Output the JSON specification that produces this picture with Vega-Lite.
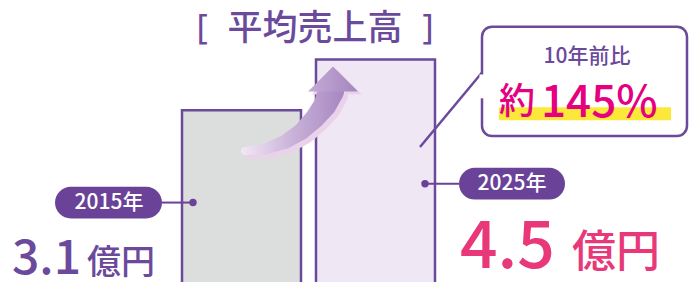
{
  "$schema": "https://vega.github.io/schema/vega-lite/v6.json",
  "width": 689,
  "height": 284,
  "autosize": {"type": "fit", "contains": "padding"},
  "padding": 0,
  "background": "white",
  "config": {"view": {"stroke": null}, "text": {"font": "Noto Sans CJK JP"}},
  "datasets": {
    "bars": [
      {"year": "2015年", "revenue": 3.1, "x0": 182, "x1": 301, "top": 111, "bottom": 292},
      {"year": "2025年", "revenue": 4.5, "x0": 316, "x1": 435, "top": 60, "bottom": 292}
    ],
    "arrow": [
      {"o": 1, "x": 245, "y": 152, "w": 8},
      {"o": 2, "x": 265, "y": 150, "w": 11},
      {"o": 3, "x": 285, "y": 143, "w": 14},
      {"o": 4, "x": 302, "y": 132, "w": 17},
      {"o": 5, "x": 315, "y": 119, "w": 20},
      {"o": 6, "x": 325, "y": 106, "w": 23},
      {"o": 7, "x": 331, "y": 92, "w": 26}
    ],
    "head": [{"x": 333, "y": 79.5}]
  },
  "layer": [
    {
      "data": {"name": "bars"},
      "mark": {"type": "rect", "stroke": "#6b4a9c", "strokeWidth": 2.5, "clip": true},
      "encoding": {
        "x": {"field": "x0", "type": "quantitative", "scale": {"domain": [0, 689], "nice": false, "zero": false}, "axis": null},
        "x2": {"field": "x1"},
        "y": {"field": "top", "type": "quantitative", "scale": {"domain": [0, 284], "reverse": true, "nice": false, "zero": false}, "axis": null},
        "y2": {"field": "bottom"},
        "color": {"field": "year", "type": "nominal", "scale": {"domain": ["2015年", "2025年"], "range": ["#dcdddd", "#f0e7f5"]}, "legend": null}
      }
    },
    {
      "data": {"name": "arrow"},
      "mark": {"type": "trail", "color": "#ead3ea", "xOffset": 4, "yOffset": 4},
      "encoding": {
        "x": {"field": "x", "type": "quantitative"},
        "y": {"field": "y", "type": "quantitative"},
        "size": {"field": "w", "type": "quantitative", "scale": null, "legend": null},
        "order": {"field": "o"}
      }
    },
    {
      "data": {"name": "head"},
      "mark": {"type": "point", "filled": true, "opacity": 1, "color": "#ead3ea", "shape": "M-1,0.5L0,-0.5L1,0.5Z", "size": 2500, "xOffset": 4, "yOffset": 3},
      "encoding": {
        "x": {"field": "x", "type": "quantitative"},
        "y": {"field": "y", "type": "quantitative"}
      }
    },
    {
      "data": {"name": "arrow"},
      "mark": {"type": "trail", "color": {"gradient": "linear", "x1": 0, "y1": 0, "x2": 1, "y2": 0, "stops": [{"offset": 0, "color": "#f1e8f4"}, {"offset": 0.5, "color": "#c9b2d9"}, {"offset": 1, "color": "#a687c0"}]}},
      "encoding": {
        "x": {"field": "x", "type": "quantitative"},
        "y": {"field": "y", "type": "quantitative"},
        "size": {"field": "w", "type": "quantitative", "scale": null, "legend": null},
        "order": {"field": "o"}
      }
    },
    {
      "data": {"name": "head"},
      "mark": {"type": "point", "filled": true, "opacity": 1, "color": {"gradient": "linear", "x1": 0, "y1": 0, "x2": 1, "y2": 0, "stops": [{"offset": 0, "color": "#c4acd6"}, {"offset": 1, "color": "#a485be"}]}, "shape": "M-1,0.5L0,-0.5L1,0.5Z", "size": 2500},
      "encoding": {
        "x": {"field": "x", "type": "quantitative"},
        "y": {"field": "y", "type": "quantitative"}
      }
    },
    {
      "data": {"values": [{"x": 420, "y": 148, "x2": 482, "y2": 73}]},
      "mark": {"type": "rule", "color": "#6b4a9c", "strokeWidth": 2.5},
      "encoding": {
        "x": {"field": "x", "type": "quantitative"},
        "y": {"field": "y", "type": "quantitative"},
        "x2": {"field": "x2"},
        "y2": {"field": "y2"}
      }
    },
    {
      "data": {"values": [{"x0": 482, "x1": 687, "y0": 27, "y1": 137}]},
      "mark": {"type": "rect", "fill": "white", "stroke": "#6b4a9c", "strokeWidth": 2.5, "cornerRadius": 10},
      "encoding": {
        "x": {"field": "x0", "type": "quantitative"},
        "x2": {"field": "x1"},
        "y": {"field": "y0", "type": "quantitative"},
        "y2": {"field": "y1"}
      }
    },
    {
      "data": {"values": [{"x": 482, "y0": 75, "y1": 99}]},
      "mark": {"type": "rule", "color": "white", "strokeWidth": 5},
      "encoding": {
        "x": {"field": "x", "type": "quantitative"},
        "y": {"field": "y0", "type": "quantitative"},
        "y2": {"field": "y1"}
      }
    },
    {
      "data": {"values": [{"x0": 499, "x1": 671, "y0": 108, "y1": 121}]},
      "mark": {"type": "rect", "color": "#fce83a"},
      "encoding": {
        "x": {"field": "x0", "type": "quantitative"},
        "x2": {"field": "x1"},
        "y": {"field": "y0", "type": "quantitative"},
        "y2": {"field": "y1"}
      }
    },
    {
      "data": {"values": [{"x": 162, "x2": 193, "y": 204}, {"x": 425, "x2": 459, "y": 185}]},
      "mark": {"type": "rule", "color": "#6a4399", "strokeWidth": 2},
      "encoding": {
        "x": {"field": "x", "type": "quantitative"},
        "x2": {"field": "x2"},
        "y": {"field": "y", "type": "quantitative"}
      }
    },
    {
      "data": {"values": [{"x": 193, "y": 204}, {"x": 425, "y": 185}]},
      "mark": {"type": "point", "filled": true, "opacity": 1, "color": "#6a4399", "size": 55},
      "encoding": {
        "x": {"field": "x", "type": "quantitative"},
        "y": {"field": "y", "type": "quantitative"}
      }
    },
    {
      "data": {"values": [{"label": "2015年", "x0": 55, "x1": 162, "y0": 188, "y1": 220, "cx": 109, "cy": 204}, {"label": "2025年", "x0": 459, "x1": 565, "y0": 169, "y1": 201, "cx": 512, "cy": 185}]},
      "layer": [
        {
          "mark": {"type": "rect", "color": "#6a4399", "cornerRadius": 16},
          "encoding": {
            "x": {"field": "x0", "type": "quantitative"},
            "x2": {"field": "x1"},
            "y": {"field": "y0", "type": "quantitative"},
            "y2": {"field": "y1"}
          }
        },
        {
          "mark": {"type": "text", "color": "white", "fontSize": 21, "fontWeight": 500, "align": "center", "baseline": "middle"},
          "encoding": {
            "x": {"field": "cx", "type": "quantitative"},
            "y": {"field": "cy", "type": "quantitative"},
            "text": {"field": "label"}
          }
        }
      ]
    },
    {
      "data": {"values": [{"t": "平均売上高", "x": 315, "y": 29}]},
      "mark": {"type": "text", "color": "#6b4a9c", "fontSize": 35, "fontWeight": 500, "align": "center", "baseline": "middle"},
      "encoding": {
        "x": {"field": "x", "type": "quantitative"},
        "y": {"field": "y", "type": "quantitative"},
        "text": {"field": "t"}
      }
    },
    {
      "data": {"values": [{"t": "[", "x": 202, "y": 29}, {"t": "]", "x": 428, "y": 29}]},
      "mark": {"type": "text", "font": "Noto Sans", "color": "#6b4a9c", "fontSize": 34, "fontWeight": 400, "align": "center", "baseline": "middle"},
      "encoding": {
        "x": {"field": "x", "type": "quantitative"},
        "y": {"field": "y", "type": "quantitative"},
        "text": {"field": "t"}
      }
    },
    {
      "data": {"values": [{"t": "10年前比", "x": 587, "y": 57}]},
      "mark": {"type": "text", "color": "#6b4a9c", "fontSize": 21, "fontWeight": 500, "align": "center", "baseline": "middle"},
      "encoding": {
        "x": {"field": "x", "type": "quantitative"},
        "y": {"field": "y", "type": "quantitative"},
        "text": {"field": "t"}
      }
    },
    {
      "data": {"values": [{"t": "約", "x": 499, "y": 115}]},
      "mark": {"type": "text", "color": "#e4007f", "fontSize": 36, "fontWeight": 500, "align": "left", "baseline": "alphabetic"},
      "encoding": {
        "x": {"field": "x", "type": "quantitative"},
        "y": {"field": "y", "type": "quantitative"},
        "text": {"field": "t"}
      }
    },
    {
      "data": {"values": [{"t": "145%", "x": 541, "y": 118}]},
      "mark": {"type": "text", "color": "#e4007f", "fontSize": 44, "fontWeight": 500, "align": "left", "baseline": "alphabetic"},
      "encoding": {
        "x": {"field": "x", "type": "quantitative"},
        "y": {"field": "y", "type": "quantitative"},
        "text": {"field": "t"}
      }
    },
    {
      "data": {"values": [{"t": "3.1", "x": 12, "y": 276}]},
      "mark": {"type": "text", "color": "#6b4a9c", "fontSize": 48, "fontWeight": 500, "align": "left", "baseline": "alphabetic"},
      "encoding": {
        "x": {"field": "x", "type": "quantitative"},
        "y": {"field": "y", "type": "quantitative"},
        "text": {"field": "t"}
      }
    },
    {
      "data": {"values": [{"t": "億円", "x": 87, "y": 276}]},
      "mark": {"type": "text", "color": "#6b4a9c", "fontSize": 34, "fontWeight": 500, "align": "left", "baseline": "alphabetic"},
      "encoding": {
        "x": {"field": "x", "type": "quantitative"},
        "y": {"field": "y", "type": "quantitative"},
        "text": {"field": "t"}
      }
    },
    {
      "data": {"values": [{"t": "4.5", "x": 460, "y": 270}]},
      "mark": {"type": "text", "color": "#e8387a", "fontSize": 66, "fontWeight": 500, "align": "left", "baseline": "alphabetic"},
      "encoding": {
        "x": {"field": "x", "type": "quantitative"},
        "y": {"field": "y", "type": "quantitative"},
        "text": {"field": "t"}
      }
    },
    {
      "data": {"values": [{"t": "億円", "x": 572, "y": 269}]},
      "mark": {"type": "text", "color": "#e8387a", "fontSize": 44, "fontWeight": 500, "align": "left", "baseline": "alphabetic"},
      "encoding": {
        "x": {"field": "x", "type": "quantitative"},
        "y": {"field": "y", "type": "quantitative"},
        "text": {"field": "t"}
      }
    }
  ]
}
